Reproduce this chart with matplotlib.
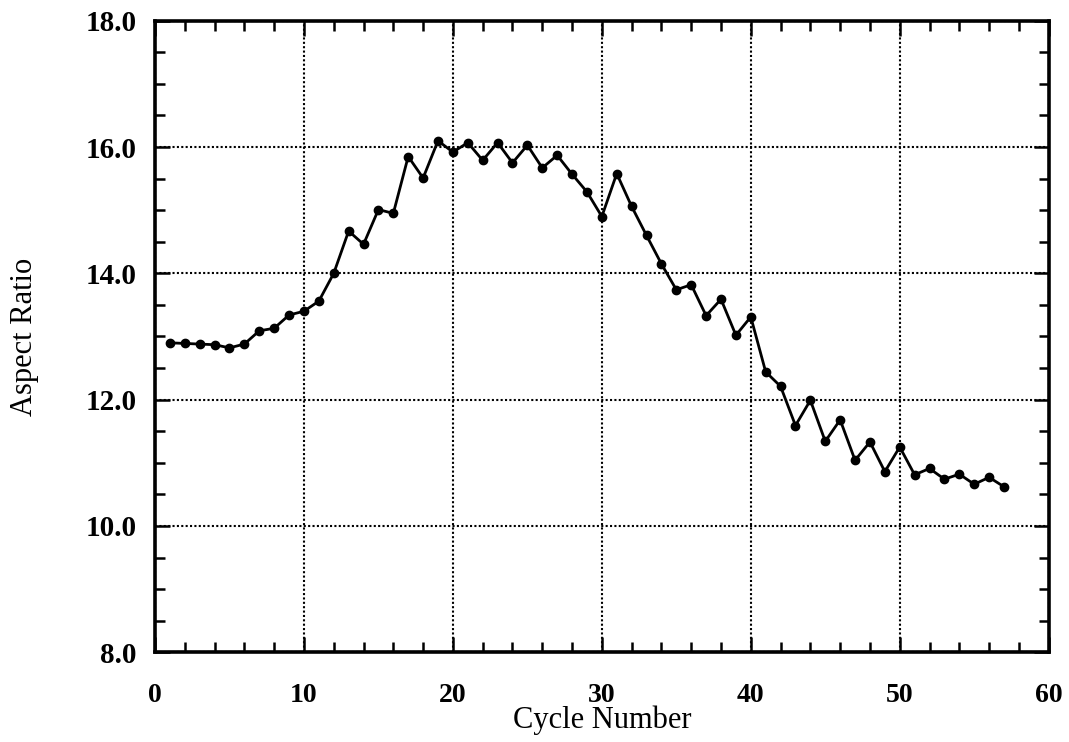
import matplotlib.pyplot as plt
from matplotlib.ticker import MultipleLocator, FormatStrFormatter

# Datos
cycle = list(range(1, 58))
aspect_ratio = [12.90, 12.89, 12.88, 12.87, 12.82, 12.88, 13.09, 13.13, 13.34, 13.40,
                13.56, 14.00, 14.67, 14.46, 15.01, 14.95, 15.85, 15.51, 16.10, 15.92,
                16.07, 15.79, 16.07, 15.75, 16.03, 15.67, 15.87, 15.57, 15.29, 14.90,
                15.58, 15.06, 14.60, 14.15, 13.74, 13.82, 13.33, 13.59, 13.02, 13.31,
                12.44, 12.21, 11.59, 11.99, 11.34, 11.68, 11.04, 11.33, 10.86, 11.25,
                10.81, 10.91, 10.74, 10.82, 10.66, 10.77, 10.62]

plt.rcParams['font.family'] = ['Liberation Serif', 'DejaVu Serif']

fig = plt.figure(figsize=(10.69, 7.42), dpi=100)
ax = fig.add_axes([0.145, 0.121, 0.836, 0.851])

ax.plot(cycle, aspect_ratio, color='black', lw=2.0, marker='o', ms=6)

ax.set_xlim(0, 60)
ax.set_ylim(8, 18)
ax.xaxis.set_major_locator(MultipleLocator(10))
ax.xaxis.set_minor_locator(MultipleLocator(2))
ax.yaxis.set_major_locator(MultipleLocator(2))
ax.yaxis.set_minor_locator(MultipleLocator(0.5))
ax.yaxis.set_major_formatter(FormatStrFormatter('%.1f'))

# grilla punteada en los ticks mayores
ax.grid(True, which='major', color='black', linestyle=(0, (1, 1.1)), lw=1.5)

ax.tick_params(which='both', direction='in', top=True, right=True, width=1.8)
ax.tick_params(which='major', length=11)
ax.tick_params(which='minor', length=7)
ax.tick_params(axis='x', labelsize=20, pad=22)
ax.tick_params(axis='y', labelsize=21, pad=13)
for lab in ax.get_xticklabels() + ax.get_yticklabels():
    lab.set_fontweight('bold')
for sp in ax.spines.values():
    sp.set_linewidth(2.6)

ax.set_xlabel('Cycle Number', fontsize=22)
ax.set_ylabel('Aspect Ratio', fontsize=22)
ax.xaxis.set_label_coords(0.5, -0.085)
ax.yaxis.set_label_coords(-0.130, 0.5)

fig.savefig('out.png', dpi=100)
